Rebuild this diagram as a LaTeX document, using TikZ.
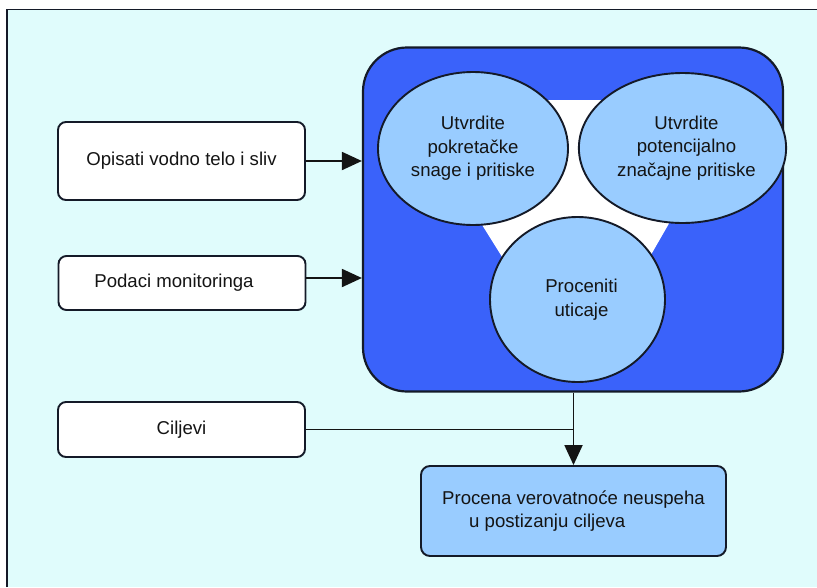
\documentclass[tikz,border=0pt]{standalone}
\usepackage{fontspec}
\setmainfont{Liberation Sans}
\usetikzlibrary{arrows.meta,shapes.geometric}

\definecolor{paper}{RGB}{224,252,252}
\definecolor{coreblue}{RGB}{58,98,250}
\definecolor{softblue}{RGB}{153,204,255}
\definecolor{edge}{RGB}{20,26,40}
\definecolor{ink}{RGB}{20,20,20}

\tikzset{
  txt/.style={font=\fontsize{18.6}{23.5}\selectfont, text=ink, align=center},
  inbox/.style={txt, draw=edge, line width=1.9pt, fill=white, rounded corners=8pt,
    minimum width=247pt, inner sep=0pt},
  bubble/.style={txt, ellipse, draw=edge, line width=1.9pt, fill=softblue, inner sep=0pt},
  conn/.style={draw=ink, line width=1.9pt},
  tip/.style={-{Triangle[length=20pt,width=18pt]}},
}

\begin{document}
\begin{tikzpicture}[x=1pt,y=-1pt]
  \useasboundingbox (0,0) rectangle (817,587);
  % page and frame
  \fill[white] (0,0) rectangle (817,587);
  \fill[paper] (7,9.5) rectangle (817,587);
  \draw[edge, line width=1.8pt] (7,587) -- (7,9.5) -- (817,9.5);

  % central block
  \node[draw=edge, line width=2.2pt, fill=coreblue, rounded corners=44pt,
        minimum width=420pt, minimum height=344pt, inner sep=0pt]
        (core) at (573,219.5) {};
  \fill[white] (404,100) -- (740,100) -- (579,380) -- cycle;

  \node[bubble, minimum width=190pt, minimum height=153pt] (drv) at (473,148.5)
    {Utvrdite\\pokretačke\\snage i pritiske};
  \node[bubble, minimum width=171pt, minimum height=150pt] (sig) at (682.5,148)
    {\hspace*{8pt}Utvrdite\\\hspace*{8pt}potencijalno\\\hspace*{8pt}značajne pritiske};
  \node[bubble, minimum width=175pt, minimum height=165pt] (imp) at (577.5,299.5)
    {\hspace*{8pt}Proceniti\\\hspace*{8pt}uticaje};

  % inputs on the left
  \node[inbox, minimum height=78pt] (body) at (181.5,161) {Opisati vodno telo i sliv};
  \node[inbox, minimum height=54pt] (mon) at (182,283) {\hspace*{-16pt}Podaci monitoringa};
  \node[inbox, minimum height=55pt] (goal) at (181.5,429.5) {Ciljevi};

  % result
  \node[txt, align=left, draw=edge, line width=1.9pt, fill=softblue, rounded corners=9pt,
        minimum width=305pt, minimum height=90pt, inner sep=0pt]
        (risk) at (573.5,511) {Procena verovatnoće neuspeha\\\hspace*{27pt}u postizanju ciljeva};

  % connectors
  \draw[conn, tip] (body.east) -- (body.east -| core.west);
  \draw[conn, tip] ([yshift=5pt]mon.east) -- ([yshift=5pt]mon.east -| core.west);
  \coordinate (join) at (risk.north |- goal.east);
  \draw[conn] (goal.east) -- (join);
  \draw[conn, tip] (risk.north |- core.south) -- (risk.north);
\end{tikzpicture}
\end{document}
